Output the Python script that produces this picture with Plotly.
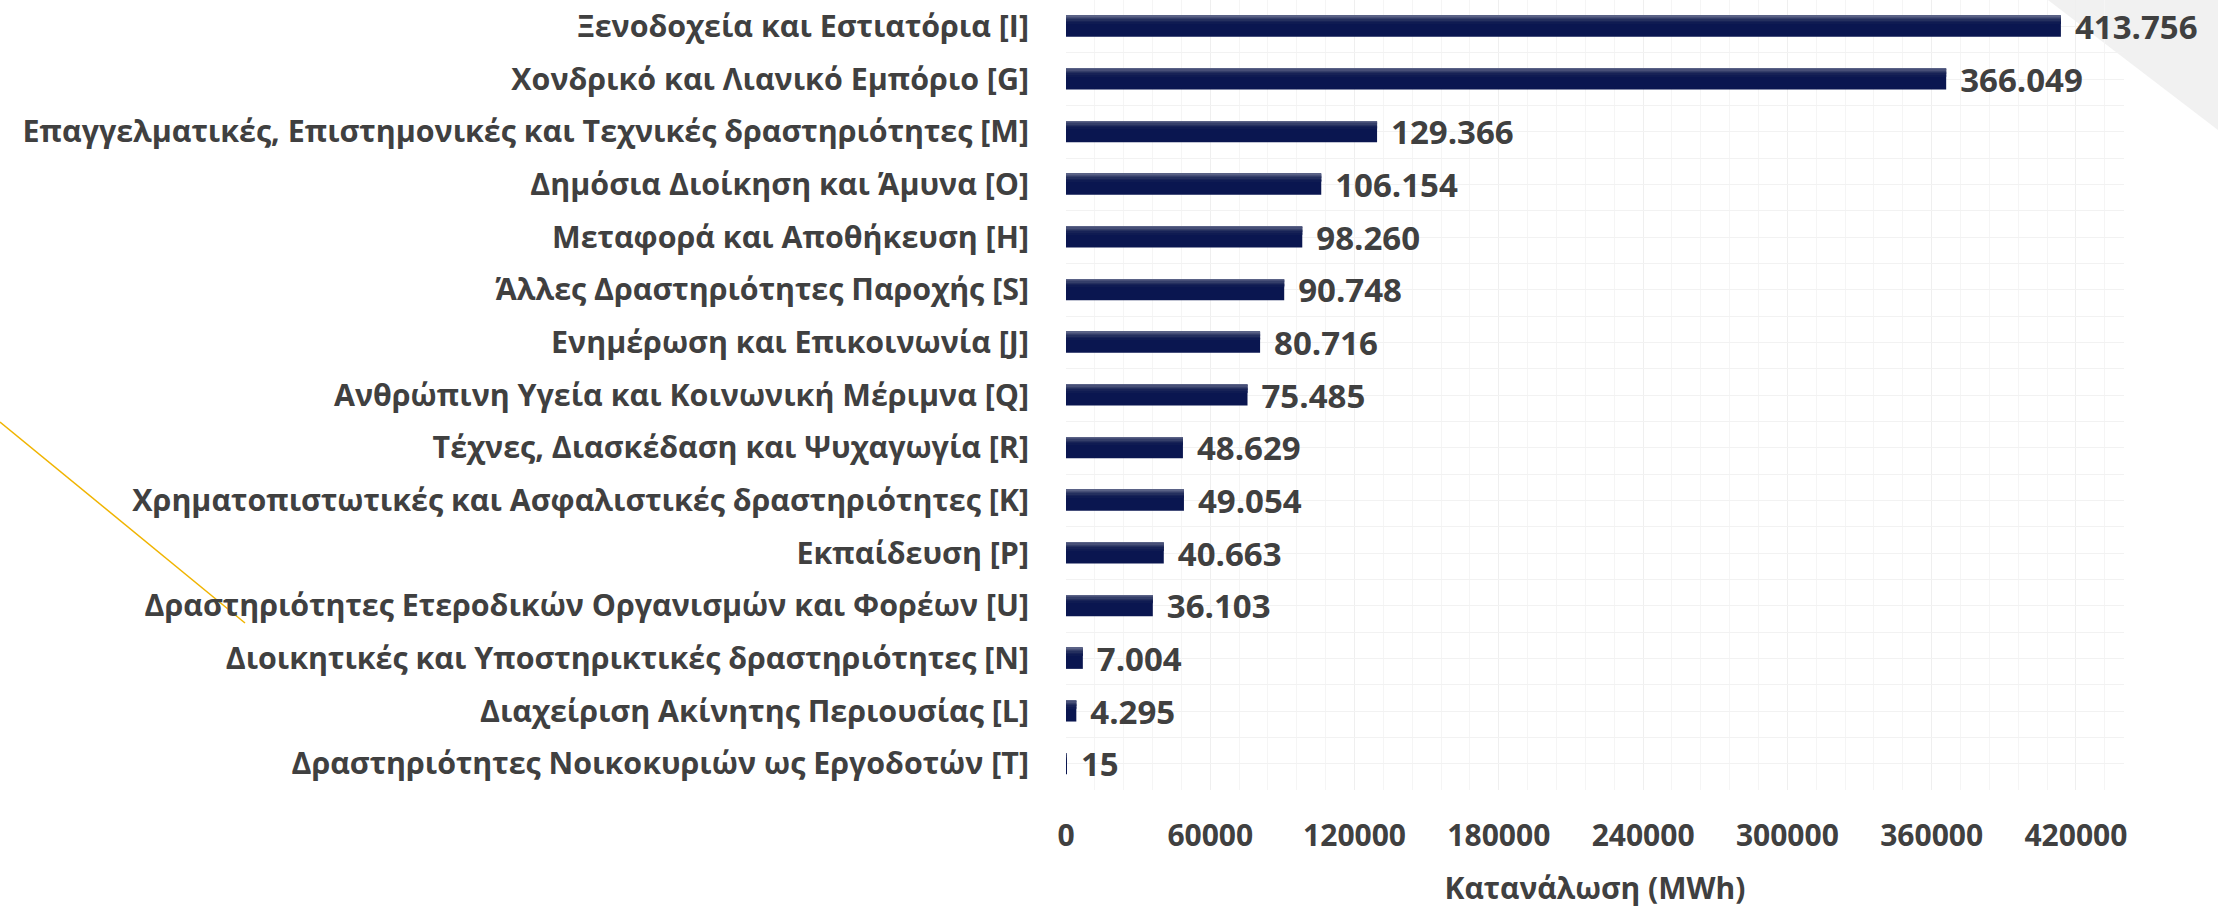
import plotly.graph_objects as go

categories = [
    "Ξενοδοχεία και Εστιατόρια [I]",
    "Χονδρικό και Λιανικό Εμπόριο [G]",
    "Επαγγελματικές, Επιστημονικές και Τεχνικές δραστηριότητες [M]",
    "Δημόσια Διοίκηση και Άμυνα [O]",
    "Μεταφορά και Αποθήκευση [H]",
    "Άλλες Δραστηριότητες Παροχής [S]",
    "Ενημέρωση και Επικοινωνία [J]",
    "Ανθρώπινη Υγεία και Κοινωνική Μέριμνα [Q]",
    "Τέχνες, Διασκέδαση και Ψυχαγωγία [R]",
    "Χρηματοπιστωτικές και Ασφαλιστικές δραστηριότητες [K]",
    "Εκπαίδευση [P]",
    "Δραστηριότητες Ετεροδικών Οργανισμών και Φορέων [U]",
    "Διοικητικές και Υποστηρικτικές δραστηριότητες [N]",
    "Διαχείριση Ακίνητης Περιουσίας [L]",
    "Δραστηριότητες Νοικοκυριών ως Εργοδοτών [T]",
]
consumption_mwh = [413756, 366049, 129366, 106154, 98260, 90748, 80716, 75485,
                   48629, 49054, 40663, 36103, 7004, 4295, 15]
x_ticks = [0, 60000, 120000, 180000, 240000, 300000, 360000, 420000]
axis_title = "Κατανάλωση (MWh)"

FONT = "Open Sans"
TXT = "#404040"
BAR = "#0a1650"
grad_colors = ["#5a6286", "#474f77", "#343e69", "#242f5e", "#172256", "#0f1b52"]

n = len(categories)
bar_w = 0.40
strip_w = 0.026

fig = go.Figure()
fig.add_trace(go.Bar(
    x=consumption_mwh, y=categories, orientation="h",
    width=bar_w, offset=-bar_w / 2,
    marker=dict(color=BAR, line=dict(width=0)),
    texttemplate="\u2004%{x:,}", textposition="outside",
    textfont=dict(family=FONT, size=33, color=TXT, weight="bold"),
    constraintext="none", cliponaxis=False, showlegend=False,
))
for k, c in enumerate(grad_colors):
    fig.add_trace(go.Bar(
        x=consumption_mwh, y=categories, orientation="h",
        width=strip_w, offset=-bar_w / 2 + k * strip_w,
        marker=dict(color=c, line=dict(width=0)),
        hoverinfo="skip", showlegend=False,
    ))
# helper trace for boundary gridlines
fig.add_trace(go.Scatter(
    x=[0] * n, y=categories, yaxis="y2", mode="markers",
    marker=dict(opacity=0), hoverinfo="skip", showlegend=False,
))

L, R, T, B = 1066, 94, 0, 118
W, H = 2218, 908
pw, ph = W - L - R, H - T - B

def px(x):
    return (x - L) / pw

def py(y):
    return (H - B - y) / ph

fig.update_layout(
    width=W, height=H, autosize=False,
    margin=dict(l=L, r=R, t=T, b=B),
    barmode="overlay",
    paper_bgcolor="white", plot_bgcolor="rgba(0,0,0,0)",
    separators=",.",
    font=dict(family=FONT, size=30, color=TXT, weight="bold"),
    xaxis=dict(
        range=[0, 440000], tickvals=x_ticks, tickformat="d",
        showgrid=True, gridcolor="#efefef", gridwidth=1,
        minor=dict(dtick=12000, showgrid=True, gridcolor="#f5f5f5"),
        zeroline=False, showline=False, ticks="",
        ticklabelstandoff=25,
        tickfont=dict(family=FONT, size=30, color=TXT, weight="bold"),
        title=dict(text=axis_title, standoff=30,
                   font=dict(family=FONT, size=30, color=TXT, weight="bold")),
        automargin=False,
    ),
    yaxis=dict(
        type="category", categoryarray=categories, categoryorder="array",
        range=[n - 0.5, -0.5],
        showgrid=True, gridcolor="#f2f2f2",
        zeroline=False, showline=False, ticks="",
        ticklabelstandoff=36,
        tickfont=dict(family=FONT, size=30.4, color=TXT, weight="bold"),
        automargin=False,
    ),
    yaxis2=dict(
        type="category", categoryarray=categories, categoryorder="array",
        overlaying="y", range=[n - 0.5, -0.5], tickson="boundaries",
        showgrid=True, gridcolor="#f2f2f2", showticklabels=False,
        zeroline=False, showline=False, ticks="",
    ),
    shapes=[
        dict(type="path", xref="paper", yref="paper", layer="below",
             path=f"M {px(2048)} {py(0)} L {px(2218)} {py(0)} L {px(2218)} {py(130)} Z",
             fillcolor="#f1f1f1", line=dict(width=0)),
        dict(type="line", xref="paper", yref="paper", layer="below",
             x0=px(0), y0=py(422), x1=px(245), y1=py(623),
             line=dict(color="#f0b400", width=1.5)),
    ],
)

fig.write_html(
    "out.html",
    config={"displayModeBar": False},
    post_script="document.body.style.margin='0';document.body.style.overflow='hidden';",
)
